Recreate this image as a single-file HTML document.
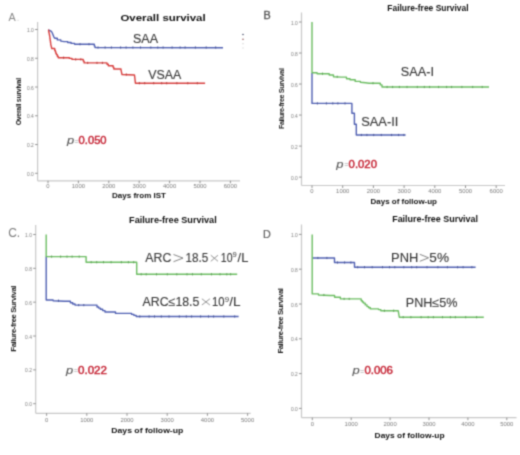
<!DOCTYPE html><html><head><meta charset="utf-8"><style>html,body{margin:0;padding:0;background:#fff;}svg{display:block;}text{font-family:"Liberation Sans",sans-serif;}</style></head><body>
<svg width="520" height="455" viewBox="0 0 520 455">
<defs><filter id="b" x="0" y="0" width="520" height="455" filterUnits="userSpaceOnUse" color-interpolation-filters="sRGB"><feConvolveMatrix order="3" kernelMatrix="0.03607 0.11778 0.03607 0.11778 0.38462 0.11778 0.03607 0.11778 0.03607" edgeMode="duplicate" preserveAlpha="true"/></filter></defs><g filter="url(#b)"><rect width="520" height="455" fill="#fff"/>
<text x="8.6" y="20.6" font-size="10.8" fill="#8a8a8a" font-weight="normal" text-anchor="start"  style="">A</text>
<text x="16.4" y="20.6" font-size="10.8" fill="#d8d8d8" font-weight="normal" text-anchor="start"  style="">.</text>
<text x="120.4" y="20.5" font-size="9.2" fill="#111" font-weight="bold" text-anchor="start" textLength="85.3" lengthAdjust="spacingAndGlyphs" style="">Overall survival</text>
<line x1="37.6" y1="22" x2="37.6" y2="180.8" stroke="#c8c8c8" stroke-width="1.2"/>
<line x1="37.6" y1="180.8" x2="240" y2="180.8" stroke="#c8c8c8" stroke-width="1.2"/>
<line x1="35.1" y1="29.5" x2="37.6" y2="29.5" stroke="#777" stroke-width="0.8"/>
<text x="33.800000000000004" y="32.0" font-size="4.6" fill="#7c7c7c" font-weight="normal" text-anchor="end" textLength="6.8" lengthAdjust="spacingAndGlyphs" style="">1.0</text>
<line x1="35.1" y1="58.260000000000005" x2="37.6" y2="58.260000000000005" stroke="#777" stroke-width="0.8"/>
<text x="33.800000000000004" y="60.760000000000005" font-size="4.6" fill="#7c7c7c" font-weight="normal" text-anchor="end" textLength="6.8" lengthAdjust="spacingAndGlyphs" style="">0.8</text>
<line x1="35.1" y1="87.02000000000001" x2="37.6" y2="87.02000000000001" stroke="#777" stroke-width="0.8"/>
<text x="33.800000000000004" y="89.52000000000001" font-size="4.6" fill="#7c7c7c" font-weight="normal" text-anchor="end" textLength="6.8" lengthAdjust="spacingAndGlyphs" style="">0.6</text>
<line x1="35.1" y1="115.78" x2="37.6" y2="115.78" stroke="#777" stroke-width="0.8"/>
<text x="33.800000000000004" y="118.28" font-size="4.6" fill="#7c7c7c" font-weight="normal" text-anchor="end" textLength="6.8" lengthAdjust="spacingAndGlyphs" style="">0.4</text>
<line x1="35.1" y1="144.54000000000002" x2="37.6" y2="144.54000000000002" stroke="#777" stroke-width="0.8"/>
<text x="33.800000000000004" y="147.04000000000002" font-size="4.6" fill="#7c7c7c" font-weight="normal" text-anchor="end" textLength="6.8" lengthAdjust="spacingAndGlyphs" style="">0.2</text>
<line x1="35.1" y1="173.3" x2="37.6" y2="173.3" stroke="#777" stroke-width="0.8"/>
<text x="33.800000000000004" y="175.8" font-size="4.6" fill="#7c7c7c" font-weight="normal" text-anchor="end" textLength="6.8" lengthAdjust="spacingAndGlyphs" style="">0.0</text>
<line x1="48.0" y1="180.8" x2="48.0" y2="183.3" stroke="#777" stroke-width="0.8"/>
<text x="48.0" y="188.20000000000002" font-size="4.6" fill="#7c7c7c" font-weight="normal" text-anchor="middle" textLength="3.3" lengthAdjust="spacingAndGlyphs" style="">0</text>
<line x1="78.4" y1="180.8" x2="78.4" y2="183.3" stroke="#777" stroke-width="0.8"/>
<text x="78.4" y="188.20000000000002" font-size="4.6" fill="#7c7c7c" font-weight="normal" text-anchor="middle" textLength="13.2" lengthAdjust="spacingAndGlyphs" style="">1000</text>
<line x1="108.8" y1="180.8" x2="108.8" y2="183.3" stroke="#777" stroke-width="0.8"/>
<text x="108.8" y="188.20000000000002" font-size="4.6" fill="#7c7c7c" font-weight="normal" text-anchor="middle" textLength="13.2" lengthAdjust="spacingAndGlyphs" style="">2000</text>
<line x1="139.2" y1="180.8" x2="139.2" y2="183.3" stroke="#777" stroke-width="0.8"/>
<text x="139.2" y="188.20000000000002" font-size="4.6" fill="#7c7c7c" font-weight="normal" text-anchor="middle" textLength="13.2" lengthAdjust="spacingAndGlyphs" style="">3000</text>
<line x1="169.6" y1="180.8" x2="169.6" y2="183.3" stroke="#777" stroke-width="0.8"/>
<text x="169.6" y="188.20000000000002" font-size="4.6" fill="#7c7c7c" font-weight="normal" text-anchor="middle" textLength="13.2" lengthAdjust="spacingAndGlyphs" style="">4000</text>
<line x1="200.0" y1="180.8" x2="200.0" y2="183.3" stroke="#777" stroke-width="0.8"/>
<text x="200.0" y="188.20000000000002" font-size="4.6" fill="#7c7c7c" font-weight="normal" text-anchor="middle" textLength="13.2" lengthAdjust="spacingAndGlyphs" style="">5000</text>
<line x1="230.39999999999998" y1="180.8" x2="230.39999999999998" y2="183.3" stroke="#777" stroke-width="0.8"/>
<text x="230.39999999999998" y="188.20000000000002" font-size="4.6" fill="#7c7c7c" font-weight="normal" text-anchor="middle" textLength="13.2" lengthAdjust="spacingAndGlyphs" style="">6000</text>
<text x="112" y="198" font-size="7.5" fill="#111" font-weight="bold" text-anchor="start" textLength="54" lengthAdjust="spacingAndGlyphs" style="">Days from IST</text>
<text transform="translate(20.5,101.6) rotate(-90)" font-size="7" font-weight="bold" fill="#1a1a1a" text-anchor="middle" textLength="47.5" lengthAdjust="spacing">Overall survival</text>
<polyline points="48.3,29.9 49.4,30.3 50.5,30.8 51.5,31.6 52.3,33.0 53.0,34.8 53.8,36.8 54.7,38.2 57.3,38.2 57.3,39.9 60.8,39.9 60.8,41.1 64.2,41.6 67.7,41.6 67.7,42.5 71.1,42.5 71.1,43.4 74.6,43.4 74.6,44.2 93.6,44.2 94.3,44.2 94.3,45.9 95.0,45.9 95.0,47.5 223.0,47.7" fill="none" stroke="#5060b2" stroke-width="1.4" stroke-linejoin="round"/>
<path d="M80.0,43.1v2.2 M89.0,43.1v2.2 M98.0,46.4v2.2 M105.1,46.4v2.2 M111.4,46.4v2.2 M120.6,46.4v2.2 M126.1,46.4v2.2 M132.9,46.4v2.2 M140.5,46.4v2.2 M150.8,46.4v2.2 M157.8,46.4v2.2 M163.1,46.4v2.2 M172.1,46.4v2.2 M180.1,46.4v2.2 M185.1,46.4v2.2 M195.4,46.4v2.2 M206.2,46.4v2.2 M215.7,46.4v2.2" stroke="#435095" stroke-width="0.9" fill="none"/>
<polyline points="48.3,29.9 48.6,29.9 48.6,31.3 48.9,31.3 48.9,32.8 49.2,32.8 49.2,34.2 49.5,34.2 49.5,35.6 49.7,35.6 49.7,37.0 49.9,37.0 49.9,38.5 50.1,38.5 50.1,39.9 50.3,39.9 50.3,41.3 50.5,41.3 50.5,42.8 50.7,42.8 50.7,44.2 51.8,48.5 54.7,48.5 54.7,50.3 55.3,50.3 55.3,51.7 55.8,51.7 55.8,53.2 56.4,53.2 56.4,54.6 57.3,54.6 57.3,56.2 58.2,56.2 58.2,57.7 66.0,57.7 69.4,57.7 69.4,58.4 72.0,58.4 72.0,59.4 82.4,59.4 83.2,59.4 83.2,61.1 84.1,61.1 84.1,62.9 105.7,62.9 107.0,62.9 107.0,64.3 108.3,64.3 108.3,65.7 112.4,65.7 113.1,65.7 113.1,67.3 113.8,67.3 113.8,69.0 121.0,69.0 121.0,69.8 122.0,74.5 134.5,75.0 135.4,83.2 205.1,83.2" fill="none" stroke="#d8403f" stroke-width="1.4" stroke-linejoin="round"/>
<path d="M63.6,56.6v2.2 M75.7,58.3v2.2 M80.8,58.3v2.2 M87.7,61.8v2.2 M97.0,61.8v2.2 M102.4,61.8v2.2 M126.3,73.4v2.2 M139.4,82.1v2.2 M144.7,82.1v2.2 M153.7,82.1v2.2 M161.7,82.1v2.2 M166.7,82.1v2.2 M176.9,82.1v2.2 M187.8,82.1v2.2 M197.3,82.1v2.2" stroke="#b53534" stroke-width="0.9" fill="none"/>
<text x="132.94" y="42.7" font-size="12.4" fill="#383838" font-weight="normal" text-anchor="start" stroke="#383838" stroke-width="0.12" textLength="25.08" lengthAdjust="spacingAndGlyphs" style="">SAA</text>
<text x="148.24" y="78.7" font-size="12.4" fill="#383838" font-weight="normal" text-anchor="start" stroke="#383838" stroke-width="0.12" textLength="33.00" lengthAdjust="spacingAndGlyphs" style="">VSAA</text>
<text x="67.1" y="143.8" font-size="11" fill="#585858" font-weight="normal" text-anchor="start" stroke="#585858" stroke-width="0.1" textLength="7.2" lengthAdjust="spacingAndGlyphs" style="font-style:italic">p</text>
<text x="74.39999999999999" y="143.5" font-size="8.5" fill="#a0a0a0" font-weight="normal" text-anchor="start" textLength="4.2" lengthAdjust="spacingAndGlyphs" style="">=</text>
<text x="78.6" y="143.8" font-size="10.8" fill="#c62838" font-weight="normal" text-anchor="start" stroke="#c62838" stroke-width="0.45" textLength="28" lengthAdjust="spacingAndGlyphs" style="">0.050</text>
<rect x="242" y="33.9" width="2" height="1.2" fill="#7a7f95"/>
<rect x="242" y="38.699999999999996" width="2" height="1.2" fill="#b08888"/>
<rect x="242" y="43.1" width="2" height="1.2" fill="#e4e4e4"/>
<rect x="242" y="47.4" width="2" height="1.2" fill="#e8e8e8"/>
<text x="263.6" y="18.8" font-size="10.8" fill="#555" font-weight="normal" text-anchor="start" stroke="#555" stroke-width="0.35"  style="">B</text>
<text x="387.3" y="11" font-size="8.5" fill="#111" font-weight="bold" text-anchor="start" textLength="81.2" lengthAdjust="spacingAndGlyphs" style="">Failure-free Survival</text>
<line x1="301.5" y1="12.5" x2="301.5" y2="185.5" stroke="#c8c8c8" stroke-width="1.2"/>
<line x1="301.5" y1="185.5" x2="505" y2="185.5" stroke="#c8c8c8" stroke-width="1.2"/>
<line x1="299.0" y1="22.0" x2="301.5" y2="22.0" stroke="#777" stroke-width="0.8"/>
<text x="297.7" y="24.5" font-size="4.6" fill="#7c7c7c" font-weight="normal" text-anchor="end" textLength="6.8" lengthAdjust="spacingAndGlyphs" style="">1.0</text>
<line x1="299.0" y1="53.019999999999996" x2="301.5" y2="53.019999999999996" stroke="#777" stroke-width="0.8"/>
<text x="297.7" y="55.519999999999996" font-size="4.6" fill="#7c7c7c" font-weight="normal" text-anchor="end" textLength="6.8" lengthAdjust="spacingAndGlyphs" style="">0.8</text>
<line x1="299.0" y1="84.03999999999999" x2="301.5" y2="84.03999999999999" stroke="#777" stroke-width="0.8"/>
<text x="297.7" y="86.53999999999999" font-size="4.6" fill="#7c7c7c" font-weight="normal" text-anchor="end" textLength="6.8" lengthAdjust="spacingAndGlyphs" style="">0.6</text>
<line x1="299.0" y1="115.06" x2="301.5" y2="115.06" stroke="#777" stroke-width="0.8"/>
<text x="297.7" y="117.56" font-size="4.6" fill="#7c7c7c" font-weight="normal" text-anchor="end" textLength="6.8" lengthAdjust="spacingAndGlyphs" style="">0.4</text>
<line x1="299.0" y1="146.07999999999998" x2="301.5" y2="146.07999999999998" stroke="#777" stroke-width="0.8"/>
<text x="297.7" y="148.57999999999998" font-size="4.6" fill="#7c7c7c" font-weight="normal" text-anchor="end" textLength="6.8" lengthAdjust="spacingAndGlyphs" style="">0.2</text>
<line x1="299.0" y1="177.1" x2="301.5" y2="177.1" stroke="#777" stroke-width="0.8"/>
<text x="297.7" y="179.6" font-size="4.6" fill="#7c7c7c" font-weight="normal" text-anchor="end" textLength="6.8" lengthAdjust="spacingAndGlyphs" style="">0.0</text>
<line x1="312.0" y1="185.5" x2="312.0" y2="188.0" stroke="#777" stroke-width="0.8"/>
<text x="312.0" y="193.2" font-size="4.6" fill="#7c7c7c" font-weight="normal" text-anchor="middle" textLength="3.3" lengthAdjust="spacingAndGlyphs" style="">0</text>
<line x1="342.7" y1="185.5" x2="342.7" y2="188.0" stroke="#777" stroke-width="0.8"/>
<text x="342.7" y="193.2" font-size="4.6" fill="#7c7c7c" font-weight="normal" text-anchor="middle" textLength="13.2" lengthAdjust="spacingAndGlyphs" style="">1000</text>
<line x1="373.4" y1="185.5" x2="373.4" y2="188.0" stroke="#777" stroke-width="0.8"/>
<text x="373.4" y="193.2" font-size="4.6" fill="#7c7c7c" font-weight="normal" text-anchor="middle" textLength="13.2" lengthAdjust="spacingAndGlyphs" style="">2000</text>
<line x1="404.1" y1="185.5" x2="404.1" y2="188.0" stroke="#777" stroke-width="0.8"/>
<text x="404.1" y="193.2" font-size="4.6" fill="#7c7c7c" font-weight="normal" text-anchor="middle" textLength="13.2" lengthAdjust="spacingAndGlyphs" style="">3000</text>
<line x1="434.8" y1="185.5" x2="434.8" y2="188.0" stroke="#777" stroke-width="0.8"/>
<text x="434.8" y="193.2" font-size="4.6" fill="#7c7c7c" font-weight="normal" text-anchor="middle" textLength="13.2" lengthAdjust="spacingAndGlyphs" style="">4000</text>
<line x1="465.5" y1="185.5" x2="465.5" y2="188.0" stroke="#777" stroke-width="0.8"/>
<text x="465.5" y="193.2" font-size="4.6" fill="#7c7c7c" font-weight="normal" text-anchor="middle" textLength="13.2" lengthAdjust="spacingAndGlyphs" style="">5000</text>
<line x1="496.2" y1="185.5" x2="496.2" y2="188.0" stroke="#777" stroke-width="0.8"/>
<text x="496.2" y="193.2" font-size="4.6" fill="#7c7c7c" font-weight="normal" text-anchor="middle" textLength="13.2" lengthAdjust="spacingAndGlyphs" style="">6000</text>
<text x="370.5" y="204" font-size="7.5" fill="#111" font-weight="bold" text-anchor="start" textLength="66.5" lengthAdjust="spacingAndGlyphs" style="">Days of follow-up</text>
<text transform="translate(283.7,98.6) rotate(-90)" font-size="7.2" font-weight="bold" fill="#1a1a1a" text-anchor="middle" textLength="61" lengthAdjust="spacing">Failure-free Survival</text>
<polyline points="312.0,73.0 312.0,103.4 351.9,103.4 351.9,113.3 354.4,113.3 354.4,124.2 356.3,124.2 356.3,135.0 405.6,135.0" fill="none" stroke="#5060b2" stroke-width="1.4" stroke-linejoin="round"/>
<path d="M317.4,102.3v2.2 M326.4,102.3v2.2 M332.8,102.3v2.2 M337.9,102.3v2.2 M345.0,102.3v2.2 M361.4,133.9v2.2 M366.9,133.9v2.2 M373.7,133.9v2.2 M381.3,133.9v2.2 M391.6,133.9v2.2 M398.6,133.9v2.2 M403.9,133.9v2.2" stroke="#435095" stroke-width="0.9" fill="none"/>
<polyline points="312.0,22.0 312.0,72.8 317.1,72.8 317.1,73.7 325.8,73.7 329.2,73.7 329.2,75.0 333.5,75.0 333.5,76.8 341.3,77.1 346.5,77.1 346.5,78.8 350.0,78.8 350.0,79.7 355.2,79.7 355.2,81.4 360.4,81.4 360.4,82.3 365.6,82.8 369.0,83.2 377.7,83.2 380.3,83.2 380.3,84.9 382.0,84.9 382.0,87.0 489.0,87.0" fill="none" stroke="#6cbd62" stroke-width="1.4" stroke-linejoin="round"/>
<path d="M322.5,72.6v2.2 M337.2,75.7v2.2 M373.0,82.1v2.2 M387.1,85.9v2.2 M392.6,85.9v2.2 M399.4,85.9v2.2 M407.0,85.9v2.2 M417.3,85.9v2.2 M424.3,85.9v2.2 M429.6,85.9v2.2 M438.6,85.9v2.2 M446.6,85.9v2.2 M451.6,85.9v2.2 M461.9,85.9v2.2 M472.7,85.9v2.2 M482.2,85.9v2.2" stroke="#5a9e52" stroke-width="0.9" fill="none"/>
<text x="400.83" y="75.9" font-size="12.4" fill="#383838" font-weight="normal" text-anchor="start" stroke="#383838" stroke-width="0.12" textLength="33.24" lengthAdjust="spacingAndGlyphs" style="">SAA-I</text>
<text x="361.22" y="126.3" font-size="12.4" fill="#383838" font-weight="normal" text-anchor="start" stroke="#383838" stroke-width="0.12" textLength="37.16" lengthAdjust="spacingAndGlyphs" style="">SAA-II</text>
<text x="336.3" y="167.5" font-size="11" fill="#585858" font-weight="normal" text-anchor="start" stroke="#585858" stroke-width="0.1" textLength="7.2" lengthAdjust="spacingAndGlyphs" style="font-style:italic">p</text>
<text x="344.3" y="167.2" font-size="8.5" fill="#a0a0a0" font-weight="normal" text-anchor="start" textLength="4.2" lengthAdjust="spacingAndGlyphs" style="">=</text>
<text x="348.6" y="167.5" font-size="10.8" fill="#c62838" font-weight="normal" text-anchor="start" stroke="#c62838" stroke-width="0.45" textLength="28.4" lengthAdjust="spacingAndGlyphs" style="">0.020</text>
<text x="8.2" y="237.3" font-size="12" fill="#7a7a7a" font-weight="normal" text-anchor="start"  style="">C.</text>
<text x="129.1" y="223.2" font-size="9" fill="#111" font-weight="bold" text-anchor="start" textLength="87.6" lengthAdjust="spacingAndGlyphs" style="">Failure-free Survival</text>
<line x1="35.7" y1="225" x2="35.7" y2="413.3" stroke="#c8c8c8" stroke-width="1.2"/>
<line x1="35.7" y1="413.3" x2="250.7" y2="413.3" stroke="#c8c8c8" stroke-width="1.2"/>
<line x1="33.2" y1="234.5" x2="35.7" y2="234.5" stroke="#777" stroke-width="0.8"/>
<text x="31.900000000000002" y="237.0" font-size="4.6" fill="#7c7c7c" font-weight="normal" text-anchor="end" textLength="6.8" lengthAdjust="spacingAndGlyphs" style="">1.0</text>
<line x1="33.2" y1="268.34000000000003" x2="35.7" y2="268.34000000000003" stroke="#777" stroke-width="0.8"/>
<text x="31.900000000000002" y="270.84000000000003" font-size="4.6" fill="#7c7c7c" font-weight="normal" text-anchor="end" textLength="6.8" lengthAdjust="spacingAndGlyphs" style="">0.8</text>
<line x1="33.2" y1="302.18" x2="35.7" y2="302.18" stroke="#777" stroke-width="0.8"/>
<text x="31.900000000000002" y="304.68" font-size="4.6" fill="#7c7c7c" font-weight="normal" text-anchor="end" textLength="6.8" lengthAdjust="spacingAndGlyphs" style="">0.6</text>
<line x1="33.2" y1="336.02" x2="35.7" y2="336.02" stroke="#777" stroke-width="0.8"/>
<text x="31.900000000000002" y="338.52" font-size="4.6" fill="#7c7c7c" font-weight="normal" text-anchor="end" textLength="6.8" lengthAdjust="spacingAndGlyphs" style="">0.4</text>
<line x1="33.2" y1="369.86" x2="35.7" y2="369.86" stroke="#777" stroke-width="0.8"/>
<text x="31.900000000000002" y="372.36" font-size="4.6" fill="#7c7c7c" font-weight="normal" text-anchor="end" textLength="6.8" lengthAdjust="spacingAndGlyphs" style="">0.2</text>
<line x1="33.2" y1="403.70000000000005" x2="35.7" y2="403.70000000000005" stroke="#777" stroke-width="0.8"/>
<text x="31.900000000000002" y="406.20000000000005" font-size="4.6" fill="#7c7c7c" font-weight="normal" text-anchor="end" textLength="6.8" lengthAdjust="spacingAndGlyphs" style="">0.0</text>
<line x1="46.6" y1="413.3" x2="46.6" y2="415.8" stroke="#777" stroke-width="0.8"/>
<text x="46.6" y="421.6" font-size="4.6" fill="#7c7c7c" font-weight="normal" text-anchor="middle" textLength="3.3" lengthAdjust="spacingAndGlyphs" style="">0</text>
<line x1="86.80000000000001" y1="413.3" x2="86.80000000000001" y2="415.8" stroke="#777" stroke-width="0.8"/>
<text x="86.80000000000001" y="421.6" font-size="4.6" fill="#7c7c7c" font-weight="normal" text-anchor="middle" textLength="13.2" lengthAdjust="spacingAndGlyphs" style="">1000</text>
<line x1="127.0" y1="413.3" x2="127.0" y2="415.8" stroke="#777" stroke-width="0.8"/>
<text x="127.0" y="421.6" font-size="4.6" fill="#7c7c7c" font-weight="normal" text-anchor="middle" textLength="13.2" lengthAdjust="spacingAndGlyphs" style="">2000</text>
<line x1="167.20000000000002" y1="413.3" x2="167.20000000000002" y2="415.8" stroke="#777" stroke-width="0.8"/>
<text x="167.20000000000002" y="421.6" font-size="4.6" fill="#7c7c7c" font-weight="normal" text-anchor="middle" textLength="13.2" lengthAdjust="spacingAndGlyphs" style="">3000</text>
<line x1="207.4" y1="413.3" x2="207.4" y2="415.8" stroke="#777" stroke-width="0.8"/>
<text x="207.4" y="421.6" font-size="4.6" fill="#7c7c7c" font-weight="normal" text-anchor="middle" textLength="13.2" lengthAdjust="spacingAndGlyphs" style="">4000</text>
<line x1="247.6" y1="413.3" x2="247.6" y2="415.8" stroke="#777" stroke-width="0.8"/>
<text x="247.6" y="421.6" font-size="4.6" fill="#7c7c7c" font-weight="normal" text-anchor="middle" textLength="13.2" lengthAdjust="spacingAndGlyphs" style="">5000</text>
<text x="111.3" y="433" font-size="7.5" fill="#111" font-weight="bold" text-anchor="start" textLength="72" lengthAdjust="spacingAndGlyphs" style="">Days of follow-up</text>
<text transform="translate(16.4,318.6) rotate(-90)" font-size="7.8" font-weight="bold" fill="#1a1a1a" text-anchor="middle" textLength="66.2" lengthAdjust="spacing">Failure-free Survival</text>
<polyline points="46.2,256.6 46.2,300.0 53.1,300.0 53.1,300.7 64.6,301.2 70.4,301.2 70.4,302.8 72.7,302.8 72.7,304.0 75.0,304.0 75.0,305.1 91.2,305.1 97.0,305.1 97.0,307.0 98.7,307.0 98.7,308.1 100.4,308.1 100.4,309.3 102.7,309.3 102.7,310.6 105.0,310.6 105.0,312.0 115.5,312.0 115.5,313.4 131.6,313.4 131.6,314.4 133.9,314.4 133.9,315.4 136.2,315.4 136.2,316.5 238.6,316.5" fill="none" stroke="#5060b2" stroke-width="1.4" stroke-linejoin="round"/>
<path d="M58.5,299.6v2.2 M78.7,304.0v2.2 M83.8,304.0v2.2 M139.8,315.4v2.2 M149.1,315.4v2.2 M154.5,315.4v2.2 M161.3,315.4v2.2 M169.0,315.4v2.2 M179.3,315.4v2.2 M186.3,315.4v2.2 M191.6,315.4v2.2 M200.6,315.4v2.2 M208.5,315.4v2.2 M213.6,315.4v2.2 M223.8,315.4v2.2 M234.7,315.4v2.2" stroke="#435095" stroke-width="0.9" fill="none"/>
<polyline points="46.2,234.5 46.2,256.6 86.1,256.6 86.1,262.2 136.7,262.2 136.7,274.3 237.2,274.3" fill="none" stroke="#6cbd62" stroke-width="1.4" stroke-linejoin="round"/>
<path d="M51.6,255.5v2.2 M60.6,255.5v2.2 M67.0,255.5v2.2 M72.1,255.5v2.2 M79.2,255.5v2.2 M91.2,261.1v2.2 M96.7,261.1v2.2 M103.5,261.1v2.2 M111.1,261.1v2.2 M121.4,261.1v2.2 M128.4,261.1v2.2 M133.7,261.1v2.2 M141.2,273.2v2.2 M146.2,273.2v2.2 M156.5,273.2v2.2 M167.3,273.2v2.2 M176.8,273.2v2.2 M187.0,273.2v2.2 M192.5,273.2v2.2 M201.3,273.2v2.2 M211.5,273.2v2.2 M220.0,273.2v2.2 M226.8,273.2v2.2 M230.6,273.2v2.2" stroke="#5a9e52" stroke-width="0.9" fill="none"/>
<text x="145.37" y="262.4" font-size="12.4" fill="#383838" font-weight="normal" text-anchor="start" stroke="#383838" stroke-width="0.12" textLength="26.01" lengthAdjust="spacingAndGlyphs" style="">ARC</text>
<polyline points="173.5,254.5 183,258.1 173.5,261.7" fill="none" stroke="#777" stroke-width="0.9"/>
<text x="185.42" y="262.4" font-size="12.4" fill="#383838" font-weight="normal" text-anchor="start" stroke="#383838" stroke-width="0.12" textLength="22.76" lengthAdjust="spacingAndGlyphs" style="">18.5</text>
<path d="M210.8,255.2 L218,261.3 M218,255.2 L210.8,261.3" stroke="#888" stroke-width="0.9"/>
<text x="220.81" y="262.4" font-size="12.4" fill="#383838" font-weight="normal" text-anchor="start" stroke="#383838" stroke-width="0.12" textLength="11.71" lengthAdjust="spacingAndGlyphs" style="">10</text>
<text x="232.4" y="257.3" font-size="7.6" fill="#383838" font-weight="normal" text-anchor="start"  style="">9</text>
<text x="237.6" y="262.4" font-size="12.4" fill="#383838" font-weight="normal" text-anchor="start" stroke="#383838" stroke-width="0.12" textLength="10.74" lengthAdjust="spacingAndGlyphs" style="">/L</text>
<text x="142.57" y="306.2" font-size="12.4" fill="#383838" font-weight="normal" text-anchor="start" stroke="#383838" stroke-width="0.12" textLength="56.84" lengthAdjust="spacingAndGlyphs" style="">ARC≤18.5</text>
<path d="M201.9,298.8 L209.9,305 M209.9,298.8 L201.9,305" stroke="#888" stroke-width="0.9"/>
<text x="212.06" y="306.2" font-size="12.4" fill="#383838" font-weight="normal" text-anchor="start" stroke="#383838" stroke-width="0.12" textLength="12.49" lengthAdjust="spacingAndGlyphs" style="">10</text>
<text x="224.7" y="301.6" font-size="7.8" fill="#383838" font-weight="normal" text-anchor="start"  style="">9</text>
<text x="229.2" y="306.2" font-size="12.4" fill="#383838" font-weight="normal" text-anchor="start" stroke="#383838" stroke-width="0.12" textLength="11.26" lengthAdjust="spacingAndGlyphs" style="">/L</text>
<text x="66.0" y="373.7" font-size="11" fill="#585858" font-weight="normal" text-anchor="start" stroke="#585858" stroke-width="0.1" textLength="7.2" lengthAdjust="spacingAndGlyphs" style="font-style:italic">p</text>
<text x="73.7" y="373.4" font-size="8.5" fill="#a0a0a0" font-weight="normal" text-anchor="start" textLength="4.2" lengthAdjust="spacingAndGlyphs" style="">=</text>
<text x="78" y="373.7" font-size="10.8" fill="#c62838" font-weight="normal" text-anchor="start" stroke="#c62838" stroke-width="0.45" textLength="29" lengthAdjust="spacingAndGlyphs" style="">0.022</text>
<text x="262.9" y="237.6" font-size="10.8" fill="#606060" font-weight="normal" text-anchor="start" stroke="#606060" stroke-width="0.2"  style="">D</text>
<text x="392.2" y="222.4" font-size="8.7" fill="#111" font-weight="bold" text-anchor="start" textLength="85.8" lengthAdjust="spacingAndGlyphs" style="">Failure-free Survival</text>
<line x1="301.5" y1="224.5" x2="301.5" y2="417.7" stroke="#c8c8c8" stroke-width="1.2"/>
<line x1="301.5" y1="417.7" x2="516.5" y2="417.7" stroke="#c8c8c8" stroke-width="1.2"/>
<line x1="299.0" y1="234.4" x2="301.5" y2="234.4" stroke="#777" stroke-width="0.8"/>
<text x="297.7" y="236.9" font-size="4.6" fill="#7c7c7c" font-weight="normal" text-anchor="end" textLength="6.8" lengthAdjust="spacingAndGlyphs" style="">1.0</text>
<line x1="299.0" y1="269.2" x2="301.5" y2="269.2" stroke="#777" stroke-width="0.8"/>
<text x="297.7" y="271.7" font-size="4.6" fill="#7c7c7c" font-weight="normal" text-anchor="end" textLength="6.8" lengthAdjust="spacingAndGlyphs" style="">0.8</text>
<line x1="299.0" y1="304.0" x2="301.5" y2="304.0" stroke="#777" stroke-width="0.8"/>
<text x="297.7" y="306.5" font-size="4.6" fill="#7c7c7c" font-weight="normal" text-anchor="end" textLength="6.8" lengthAdjust="spacingAndGlyphs" style="">0.6</text>
<line x1="299.0" y1="338.8" x2="301.5" y2="338.8" stroke="#777" stroke-width="0.8"/>
<text x="297.7" y="341.3" font-size="4.6" fill="#7c7c7c" font-weight="normal" text-anchor="end" textLength="6.8" lengthAdjust="spacingAndGlyphs" style="">0.4</text>
<line x1="299.0" y1="373.6" x2="301.5" y2="373.6" stroke="#777" stroke-width="0.8"/>
<text x="297.7" y="376.1" font-size="4.6" fill="#7c7c7c" font-weight="normal" text-anchor="end" textLength="6.8" lengthAdjust="spacingAndGlyphs" style="">0.2</text>
<line x1="299.0" y1="408.4" x2="301.5" y2="408.4" stroke="#777" stroke-width="0.8"/>
<text x="297.7" y="410.9" font-size="4.6" fill="#7c7c7c" font-weight="normal" text-anchor="end" textLength="6.8" lengthAdjust="spacingAndGlyphs" style="">0.0</text>
<line x1="312.3" y1="417.7" x2="312.3" y2="420.2" stroke="#777" stroke-width="0.8"/>
<text x="312.3" y="426.09999999999997" font-size="4.6" fill="#7c7c7c" font-weight="normal" text-anchor="middle" textLength="3.3" lengthAdjust="spacingAndGlyphs" style="">0</text>
<line x1="351.2" y1="417.7" x2="351.2" y2="420.2" stroke="#777" stroke-width="0.8"/>
<text x="351.2" y="426.09999999999997" font-size="4.6" fill="#7c7c7c" font-weight="normal" text-anchor="middle" textLength="13.2" lengthAdjust="spacingAndGlyphs" style="">1000</text>
<line x1="390.1" y1="417.7" x2="390.1" y2="420.2" stroke="#777" stroke-width="0.8"/>
<text x="390.1" y="426.09999999999997" font-size="4.6" fill="#7c7c7c" font-weight="normal" text-anchor="middle" textLength="13.2" lengthAdjust="spacingAndGlyphs" style="">2000</text>
<line x1="429.0" y1="417.7" x2="429.0" y2="420.2" stroke="#777" stroke-width="0.8"/>
<text x="429.0" y="426.09999999999997" font-size="4.6" fill="#7c7c7c" font-weight="normal" text-anchor="middle" textLength="13.2" lengthAdjust="spacingAndGlyphs" style="">3000</text>
<line x1="467.9" y1="417.7" x2="467.9" y2="420.2" stroke="#777" stroke-width="0.8"/>
<text x="467.9" y="426.09999999999997" font-size="4.6" fill="#7c7c7c" font-weight="normal" text-anchor="middle" textLength="13.2" lengthAdjust="spacingAndGlyphs" style="">4000</text>
<line x1="506.8" y1="417.7" x2="506.8" y2="420.2" stroke="#777" stroke-width="0.8"/>
<text x="506.8" y="426.09999999999997" font-size="4.6" fill="#7c7c7c" font-weight="normal" text-anchor="middle" textLength="13.2" lengthAdjust="spacingAndGlyphs" style="">5000</text>
<text x="374.6" y="438" font-size="7.5" fill="#111" font-weight="bold" text-anchor="start" textLength="70" lengthAdjust="spacingAndGlyphs" style="">Days of follow-up</text>
<text transform="translate(282.6,320.8) rotate(-90)" font-size="7.8" font-weight="bold" fill="#1a1a1a" text-anchor="middle" textLength="65.5" lengthAdjust="spacing">Failure-free Survival</text>
<polyline points="312.5,258.0 334.5,258.0 334.5,262.5 354.5,262.5 354.5,267.2 475.6,267.2" fill="none" stroke="#5060b2" stroke-width="1.4" stroke-linejoin="round"/>
<path d="M317.9,256.9v2.2 M326.9,256.9v2.2 M337.5,261.4v2.2 M344.6,261.4v2.2 M350.9,261.4v2.2 M357.7,266.1v2.2 M364.5,266.1v2.2 M372.2,266.1v2.2 M382.5,266.1v2.2 M389.5,266.1v2.2 M394.8,266.1v2.2 M403.8,266.1v2.2 M411.7,266.1v2.2 M416.7,266.1v2.2 M427.0,266.1v2.2 M437.9,266.1v2.2 M447.4,266.1v2.2 M457.6,266.1v2.2 M463.1,266.1v2.2 M471.9,266.1v2.2" stroke="#435095" stroke-width="0.9" fill="none"/>
<polyline points="312.2,234.5 312.2,293.9 318.5,293.9 318.5,295.0 330.0,295.5 334.6,295.5 334.6,297.3 340.4,297.3 340.4,298.9 355.4,298.9 361.2,298.9 361.2,300.8 362.4,300.8 362.4,302.0 363.5,302.0 363.5,303.1 365.2,303.1 365.2,304.9 367.0,304.9 367.0,306.6 368.7,306.6 368.7,307.8 370.4,307.8 370.4,308.9 378.5,308.9 378.5,309.6 380.8,309.6 380.8,310.7 398.2,310.7 399.3,317.2 483.8,317.2" fill="none" stroke="#6cbd62" stroke-width="1.4" stroke-linejoin="round"/>
<path d="M323.9,293.9v2.2 M344.1,297.8v2.2 M349.2,297.8v2.2 M384.4,309.6v2.2 M393.7,309.6v2.2 M403.2,316.1v2.2 M410.9,316.1v2.2 M421.1,316.1v2.2 M428.2,316.1v2.2 M433.4,316.1v2.2 M442.5,316.1v2.2 M450.4,316.1v2.2 M455.4,316.1v2.2 M465.7,316.1v2.2 M476.6,316.1v2.2" stroke="#5a9e52" stroke-width="0.9" fill="none"/>
<text x="391.14" y="261.9" font-size="12.4" fill="#383838" font-weight="normal" text-anchor="start" stroke="#383838" stroke-width="0.12" textLength="27.21" lengthAdjust="spacingAndGlyphs" style="">PNH</text>
<polyline points="419.8,254.3 428.6,257.8 419.8,261.3" fill="none" stroke="#777" stroke-width="0.9"/>
<text x="429.36" y="261.9" font-size="12.4" fill="#383838" font-weight="normal" text-anchor="start" stroke="#383838" stroke-width="0.12" textLength="19.66" lengthAdjust="spacingAndGlyphs" style="">5%</text>
<text x="405.76" y="306.6" font-size="12.4" fill="#383838" font-weight="normal" text-anchor="start" stroke="#383838" stroke-width="0.12" textLength="51.69" lengthAdjust="spacingAndGlyphs" style="">PNH≤5%</text>
<text x="352.4" y="374.3" font-size="11" fill="#585858" font-weight="normal" text-anchor="start" stroke="#585858" stroke-width="0.1" textLength="7.2" lengthAdjust="spacingAndGlyphs" style="font-style:italic">p</text>
<text x="360.1" y="374.0" font-size="8.5" fill="#a0a0a0" font-weight="normal" text-anchor="start" textLength="4.2" lengthAdjust="spacingAndGlyphs" style="">=</text>
<text x="364.4" y="374.3" font-size="10.8" fill="#c62838" font-weight="normal" text-anchor="start" stroke="#c62838" stroke-width="0.45" textLength="28.6" lengthAdjust="spacingAndGlyphs" style="">0.006</text>
</g>
</svg></body></html>
